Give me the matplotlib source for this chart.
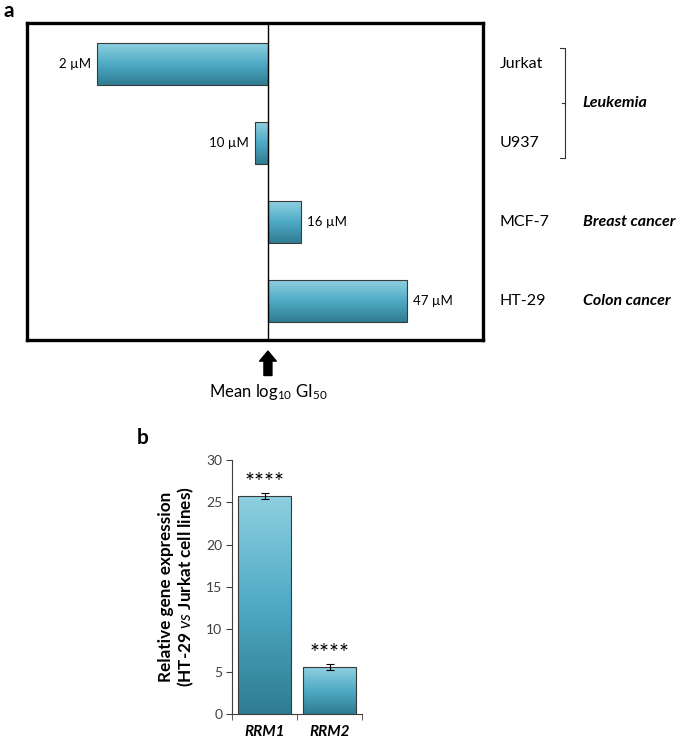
import numpy as np
import matplotlib
matplotlib.use("Agg")
from matplotlib import pyplot as plt
from matplotlib.colors import LinearSegmentedColormap
from matplotlib.transforms import blended_transform_factory

# panel a: deviation of log10 GI50 from the mean, per cell line
cell_lines = ['Jurkat', 'U937', 'MCF-7', 'HT-29']
log_dev = [-0.76, -0.058, 0.147, 0.618]
gi50_labels = ['2 \u00b5M', '10 \u00b5M', '16 \u00b5M', '47 \u00b5M']

# panel b: relative expression HT-29 vs Jurkat
genes = ['RRM1', 'RRM2']
expr = [25.75, 5.55]
expr_err = [0.4, 0.35]
signif = ['****', '****']

plt.rcParams['font.family'] = ['Lato', 'DejaVu Sans']
plt.rcParams['mathtext.fontset'] = 'custom'
plt.rcParams['mathtext.rm'] = 'Lato'
plt.rcParams['mathtext.it'] = 'Lato:italic'
plt.rcParams['mathtext.bf'] = 'Lato:bold'

grad = LinearSegmentedColormap.from_list('aqua', ['#8fd0e0', '#4eaac4', '#2f7c91'])
grad_img = np.linspace(0, 1, 256).reshape(-1, 1)


def gradient_bars(ax, bars):
    # light at the top of each bar on screen, dark at the bottom
    inv = ax.yaxis_inverted()
    for b in bars:
        x0, y0 = b.get_x(), b.get_y()
        w, h = b.get_width(), b.get_height()
        ylo, yhi = min(y0, y0 + h), max(y0, y0 + h)
        ext = (x0, x0 + w, yhi, ylo) if inv else (x0, x0 + w, ylo, yhi)
        im = ax.imshow(grad_img, cmap=grad, aspect='auto', extent=ext, origin='upper', zorder=2)
        im.set_clip_path(b)
        b.set_facecolor('none')
        b.set_zorder(3)


fig = plt.figure(figsize=(6.85, 7.42), dpi=100)

# ---- panel a ----
ax = fig.add_axes([27 / 685, 1 - 340 / 742, 456 / 685, 317 / 742])
ypos = np.arange(len(cell_lines))
bars = ax.barh(ypos, log_dev, height=0.53, edgecolor='#3a3a3a', linewidth=0.8)
ax.set_xlim(-1.071, 0.956)
ax.set_ylim(3.494, -0.519)
gradient_bars(ax, bars)
ax.set_xlim(-1.071, 0.956)
ax.set_ylim(3.494, -0.519)
ax.axvline(0, color='black', lw=1.0, zorder=4)
for s in ax.spines.values():
    s.set_linewidth(2.4)
ax.set_xticks([])
ax.set_yticks([])

for i, v in enumerate(log_dev):
    if v < 0:
        ax.annotate(gi50_labels[i], (v, i), xytext=(-4, 0), textcoords='offset points',
                    ha='right', va='center', fontsize=9.5)
    else:
        ax.annotate(gi50_labels[i], (v, i), xytext=(4, 0), textcoords='offset points',
                    ha='left', va='center', fontsize=9.5)

tr = blended_transform_factory(ax.transAxes, ax.transData)
for i, name in enumerate(cell_lines):
    ax.text(1.037, i, name, transform=tr, ha='left', va='center', fontsize=11.5)

# bracket for leukemia lines
bx, bl = 1.180, 1.169
ax.plot([bl, bx, bx, bl], [-0.2, -0.2, 1.19, 1.19], transform=tr, color='#333333',
        lw=0.8, clip_on=False)
ax.plot([bx, bx - 0.007], [0.494, 0.494], transform=tr, color='#333333', lw=0.8, clip_on=False)
for yy, lab in [(0.494, 'Leukemia'), (2, 'Breast cancer'), (3, 'Colon cancer')]:
    ax.text(1.219, yy, lab, transform=tr, ha='left', va='center', fontsize=11.5,
            fontweight='bold', style='italic')

xt = ax.get_xaxis_transform()
ax.annotate('', xy=(0, -0.035), xytext=(0, -0.112), xycoords=xt, textcoords=xt,
            arrowprops=dict(arrowstyle='simple,head_length=0.6,head_width=1.0,tail_width=0.48',
                            color='black', mutation_scale=12, shrinkA=0, shrinkB=0))
ax.text(0, -0.165, r'Mean log$_{10}$ GI$_{50}$', transform=xt, ha='center', va='center',
        fontsize=12)

fig.text(3 / 685, 1 - 17 / 742, 'a', fontsize=15, fontweight='bold')

# ---- panel b ----
bx_ = fig.add_axes([232 / 685, 1 - 714 / 742, 130 / 685, 254 / 742])
xpos = np.arange(len(genes))
bars2 = bx_.bar(xpos, expr, width=0.83, edgecolor='#3a3a3a', linewidth=0.8)
bx_.set_xlim(-0.5, 1.5)
bx_.set_ylim(0, 30)
gradient_bars(bx_, bars2)
bx_.set_xlim(-0.5, 1.5)
bx_.set_ylim(0, 30)
bx_.errorbar(xpos, expr, yerr=expr_err, fmt='none', ecolor='black', elinewidth=0.8,
             capsize=3, capthick=0.8, zorder=5)
for i in range(len(genes)):
    bx_.annotate(signif[i], (xpos[i], expr[i] + expr_err[i]), xytext=(0, 0),
                 textcoords='offset points', ha='center', va='bottom', fontsize=17)

bx_.spines['top'].set_visible(False)
bx_.spines['right'].set_visible(False)
bx_.spines['left'].set_color('#404040')
bx_.spines['bottom'].set_color('#404040')
bx_.set_yticks(range(0, 31, 5))
bx_.tick_params(axis='y', direction='out', length=4, color='#404040', labelsize=10,
                labelcolor='#404040', pad=3)
bx_.set_xticks(xpos)
bx_.set_xticklabels(genes, fontsize=11, fontweight='bold', style='italic')
bx_.tick_params(axis='x', length=0, pad=8)
bx_.set_xticks([-0.5, 0.5, 1.5], minor=True)
bx_.tick_params(axis='x', which='minor', direction='out', length=4, color='#404040')
bx_.set_ylabel('Relative gene expression\n(HT-29 $\\mathbf{\\it{vs}}$ Jurkat cell lines)',
               fontsize=12.3, fontweight='bold', labelpad=7, linespacing=1.1)

fig.text(137 / 685, 1 - 444 / 742, 'b', fontsize=15, fontweight='bold')

fig.savefig('out.png', dpi=100)
